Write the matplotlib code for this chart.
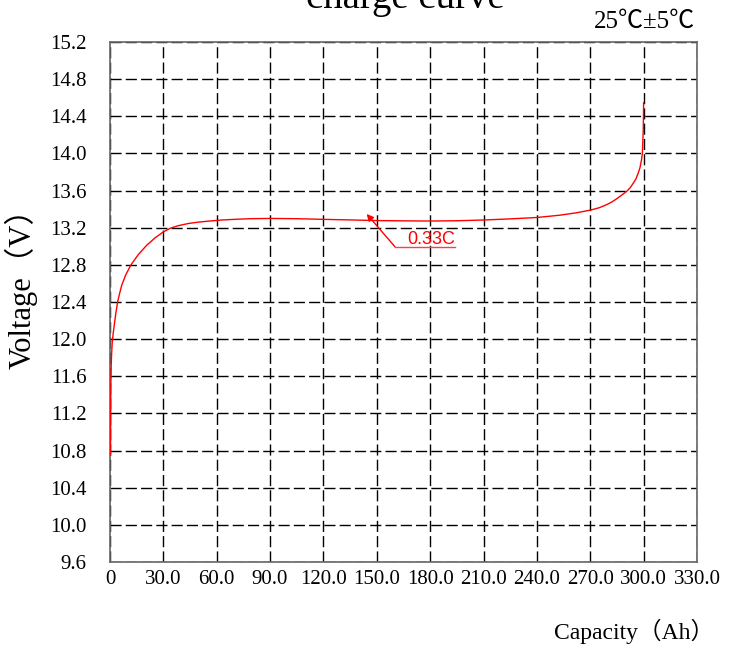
import matplotlib
matplotlib.use("Agg")
import matplotlib.pyplot as plt

# ---- data ----
capacity = [0.3, 0.35, 0.4, 0.45, 0.56, 0.7, 0.9, 1.3, 1.8, 2.4, 3.3, 4.3, 5.4,
            6.6, 8.8, 11.8, 15.9, 20.6, 25.3, 30.0, 34.0, 38.4, 44.0, 49.6,
            56.0, 62.8, 70.0, 78.7, 90.0, 105.0, 120.0, 135.0, 150.0, 165.0,
            180.0, 195.0, 210.0, 225.0, 240.0, 253.0, 262.0, 270.2, 275.0,
            279.2, 282.2, 284.9, 287.8, 290.5, 292.5, 294.2, 295.8, 297.0,
            298.0, 298.8, 299.3, 299.8, 299.9, 300.0]
voltage = [10.75, 11.0, 11.2, 11.4, 11.6, 11.72, 11.83, 11.97, 12.06, 12.15,
           12.28, 12.4, 12.49, 12.58, 12.69, 12.8, 12.91, 13.01, 13.09, 13.155,
           13.195, 13.222, 13.245, 13.26, 13.272, 13.283, 13.29, 13.297, 13.30,
           13.297, 13.29, 13.284, 13.277, 13.274, 13.272, 13.275, 13.283,
           13.295, 13.31, 13.335, 13.36, 13.39, 13.415, 13.448, 13.478, 13.512,
           13.553, 13.592, 13.632, 13.68, 13.73, 13.79, 13.85, 13.93, 14.0,
           14.25, 14.4, 14.546]

x_ticks = [0, 30, 60, 90, 120, 150, 180, 210, 240, 270, 300, 330]
x_tick_labels = ["0", "30.0", "60.0", "90.0", "120.0", "150.0", "180.0",
                 "210.0", "240.0", "270.0", "300.0", "330.0"]
y_ticks = [9.6, 10.0, 10.4, 10.8, 11.2, 11.6, 12.0, 12.4, 12.8, 13.2, 13.6,
           14.0, 14.4, 14.8, 15.2]
y_tick_labels = ["9.6", "10.0", "10.4", "10.8", "11.2", "11.6", "12.0", "12.4",
                 "12.8", "13.2", "13.6", "14.0", "14.4", "14.8", "15.2"]

title = "charge curve"
temp_text = "25℃±5℃"
series_label = "0.33C"
x_label = "Capacity（Ah）"
y_label = "Voltage（V）"

label_x, label_y = 160.2, 12.995      # annotation elbow
arrow_tip = (144.3, 13.348)
underline_end = 194.0

fam = ["Liberation Serif", "Noto Sans CJK SC", "DejaVu Sans"]

fig = plt.figure(figsize=(7.41, 6.48), dpi=100)
ax = fig.add_axes([0.1484, 0.1327, 0.7922, 0.8025])

ax.plot(capacity, voltage, color="#ff0000", lw=1.0, zorder=3)

ax.set_xlim(0, 330)
ax.set_ylim(9.6, 15.2)
ax.set_xticks(x_ticks)
ax.set_xticklabels(x_tick_labels, family=fam, fontsize=15)
ax.set_yticks(y_ticks)
ax.set_yticklabels(y_tick_labels, family=fam, fontsize=15)
ax.tick_params(axis="both", length=0)
ax.tick_params(axis="x", pad=6)
ax.tick_params(axis="y", pad=17)

ax.grid(True, color="black", lw=1.0, linestyle=(0, (8, 3)))
for s in ax.spines.values():
    s.set_color("#666666")
    s.set_linewidth(1.2)

# annotation
ax.annotate("", xy=arrow_tip, xytext=(label_x, label_y),
            arrowprops=dict(arrowstyle="-|>", color="#ff0000", lw=1.0,
                            mutation_scale=10, shrinkA=0, shrinkB=0), zorder=4)
ax.plot([label_x, underline_end], [label_y, label_y], color="#ff4040", lw=1.0, zorder=4)
ax.text(167.0, 13.024, series_label, color="#ff0000", family="Liberation Sans",
        fontsize=13, ha="left", va="baseline", zorder=4)

# texts
fig.text(0.547, 0.988, title, family=fam, fontsize=28, ha="center", va="baseline")
fig.text(0.938, 0.957, temp_text, family=fam, fontsize=18, ha="right", va="baseline")
fig.text(0.856, 0.014, x_label, family=fam, fontsize=17, ha="center", va="baseline")
fig.text(0.028, 0.567, y_label, family=fam, fontsize=22, ha="center", va="center",
         rotation=90)

fig.savefig("out.png", dpi=100)
